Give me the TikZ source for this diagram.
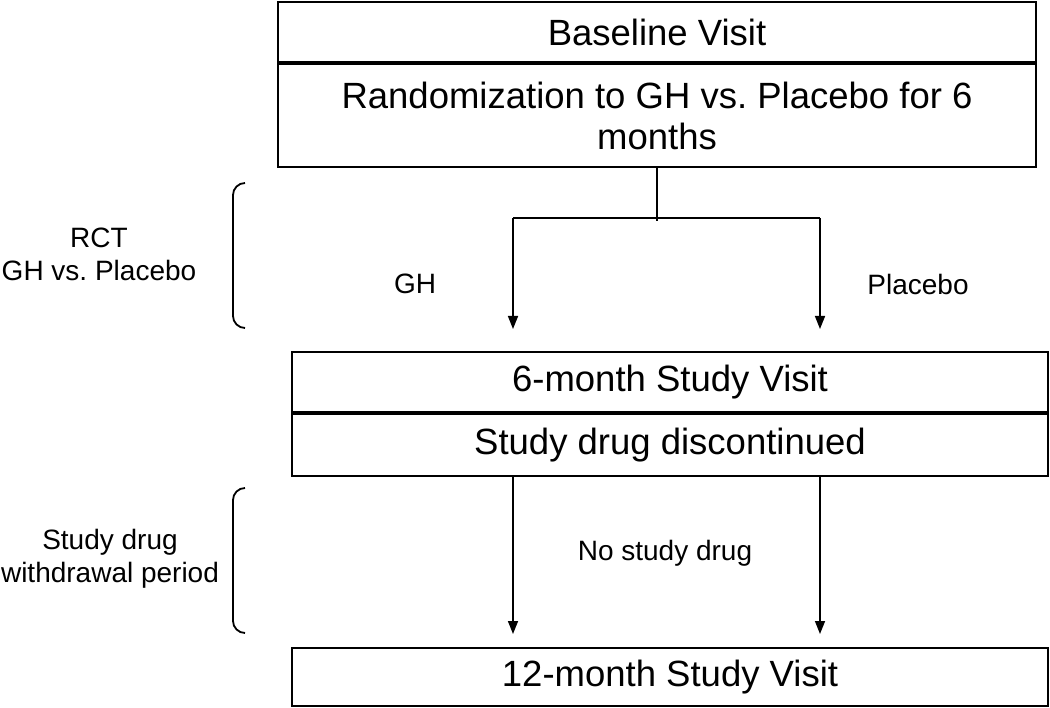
\documentclass[tikz,border=0pt]{standalone}
\usepackage{fontspec}
\setmainfont{Liberation Sans}
\usetikzlibrary{arrows.meta,positioning}
\frenchspacing

\tikzset{
  box/.style={draw, line width=2pt, minimum width=756pt, inner sep=0pt, align=center,
    font=\fontsize{36.5}{41}\selectfont},
  lbl/.style={align=center, font=\fontsize{28}{33}\selectfont},
  line/.style={line width=2pt},
  arr/.style={line width=1.5pt, -{Triangle[length=13pt,width=10pt]}},
  brace/.style={line width=1.8pt, rounded corners=12pt}
}

\begin{document}
\begin{tikzpicture}[x=1pt,y=-1pt]
\useasboundingbox (0,0) rectangle (1050,708);
% boxes
\node[box, minimum width=758pt, minimum height=60pt] (base) at (657,32) {Baseline Visit};
\node[box, minimum width=758pt, minimum height=103pt, below=0pt of base] (rand) {Randomization to GH vs. Placebo for 6\\months};
\node[box, minimum height=60pt] (sixm) at (670,382) {6-month Study Visit};
\node[box, minimum height=62pt, below=0pt of sixm] (stop) {Study drug discontinued};
\node[box, minimum height=58pt] (twelve) at (670,677) {12-month Study Visit};
% split
\coordinate (split) at ([yshift=-53pt]rand.south);
\coordinate (ghtop) at (513,218);
\coordinate (pltop) at (820,218);
\draw[line] (rand.south) -- (split);
\draw[line] (ghtop) -- (pltop);
\draw[arr, shorten >=22pt] (ghtop) -- (ghtop |- sixm.north);
\draw[arr, shorten >=22pt] (pltop) -- (pltop |- sixm.north);
\draw[arr, shorten >=13pt] (ghtop |- stop.south) -- (ghtop |- twelve.north);
\draw[arr, shorten >=13pt] (pltop |- stop.south) -- (pltop |- twelve.north);
% labels
\node[lbl] (ghl) at (415,284) {GH};
\node[lbl] (pll) at (918,284) {Placebo};
\node[lbl] (nodrug) at (665,553) {No study drug};
\node[lbl] (rct) at (99,254) {RCT\\GH vs. Placebo};
\node[lbl] (wd) at (110,559) {Study drug\\withdrawal period};
% brackets
\draw[brace] (245,183) -- (233,183) -- (233,328) -- (245,328);
\draw[brace] (245,488) -- (233,488) -- (233,633) -- (245,633);
\end{tikzpicture}
\end{document}
